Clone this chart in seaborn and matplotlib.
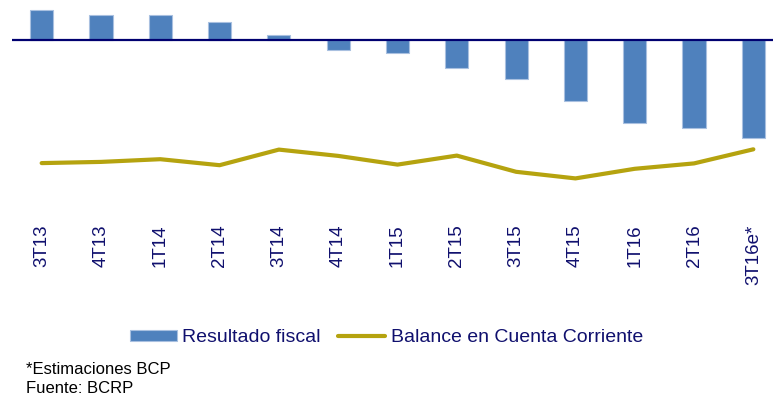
import numpy as np
import pandas as pd
import matplotlib
matplotlib.use("Agg")
import matplotlib.pyplot as plt
import seaborn as sns

# Quarterly series (% del PBI)
quarters = ["3T13", "4T13", "1T14", "2T14", "3T14", "4T14", "1T15",
            "2T15", "3T15", "4T15", "1T16", "2T16", "3T16e*"]
resultado_fiscal = [0.97, 0.82, 0.82, 0.58, 0.16, -0.34, -0.44,
                    -0.94, -1.31, -2.05, -2.79, -2.96, -3.29]
balance_cc = [-4.12, -4.08, -3.99, -4.19, -3.67, -3.88, -4.17,
              -3.87, -4.41, -4.63, -4.31, -4.13, -3.66]

BAR_BLUE = "#4F81BD"
LINE_OLIVE = "#B5A30F"
TEXT_NAVY = "#10106E"

sns.set_theme(style="white")
plt.rcParams["font.family"] = ["Liberation Sans", "DejaVu Sans"]

W, H = 773, 398
fig = plt.figure(figsize=(W / 100, H / 100), dpi=100)
ax_top, ax_bottom = 0, 215
ax = fig.add_axes([12 / W, 1 - ax_bottom / H, 771 / W, (ax_bottom - ax_top) / H])

df = pd.DataFrame({"trimestre": quarters, "fiscal": resultado_fiscal, "cc": balance_cc})

sns.barplot(data=df, x="trimestre", y="fiscal", color=BAR_BLUE, saturation=1,
            width=0.39, edgecolor="#A9C0E0", linewidth=0.8,
            label="Resultado fiscal", ax=ax, zorder=2)
sns.lineplot(x=np.arange(len(quarters)), y=df["cc"], color=LINE_OLIVE,
             linewidth=3.0, label="Balance en Cuenta Corriente", ax=ax, zorder=3)

ax.axhline(0, color="#000070", linewidth=1.6, zorder=4)

px_per_unit = 30.0
zero_px = 39.5
ax.set_ylim(-(ax_bottom - zero_px) / px_per_unit, (zero_px - ax_top) / px_per_unit)
ax.set_xlim(-0.5, len(quarters) - 0.5)

ax.set_xlabel("")
ax.set_ylabel("")
ax.set_yticks([])
ax.set_xticks(range(len(quarters)))
ax.set_xticklabels(quarters, rotation=90, va="top", ha="center",
                   fontsize=13.5, color=TEXT_NAVY)
ax.tick_params(axis="x", length=0, pad=7)
for s in ax.spines.values():
    s.set_visible(False)

handles, labels = ax.get_legend_handles_labels()
if ax.get_legend():
    ax.get_legend().remove()
order = [labels.index("Resultado fiscal"), labels.index("Balance en Cuenta Corriente")]
fig.legend([handles[i] for i in order], [labels[i] for i in order],
           loc="center", bbox_to_anchor=(0.5, 1 - 337.5 / H),
           ncol=2, frameon=False, fontsize=14, handlelength=2.4, handleheight=0.5,
           handletextpad=0.3, columnspacing=0.9, labelcolor=TEXT_NAVY,
           borderaxespad=0, borderpad=0)

fig.text(26 / W, 1 - 362 / H, "*Estimaciones BCP", fontsize=12, color="black",
         va="top", ha="left")
fig.text(26 / W, 1 - 381 / H, "Fuente: BCRP", fontsize=12, color="black",
         va="top", ha="left")

fig.savefig("out.png", dpi=100, facecolor="white")
